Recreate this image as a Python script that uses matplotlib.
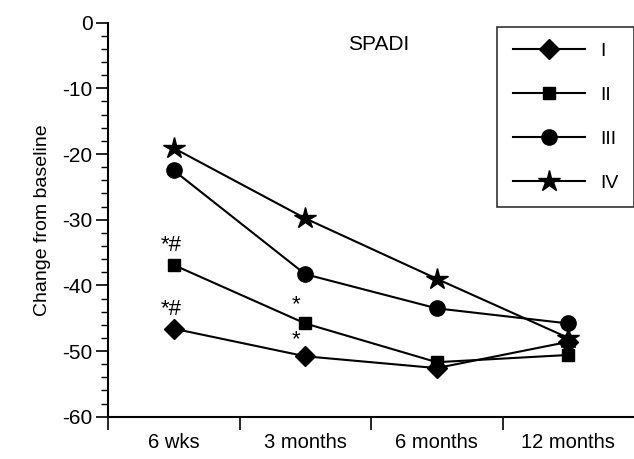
import matplotlib.pyplot as plt
from matplotlib.ticker import MultipleLocator

plt.rcParams['font.family'] = ['Liberation Sans', 'DejaVu Sans']
plt.rcParams['axes.unicode_minus'] = False

# data
timepoints = ['6 wks', '3 months', '6 months', '12 months']
group_I = [-46.6, -50.8, -52.6, -48.6]
group_II = [-36.9, -45.8, -51.7, -50.6]
group_III = [-22.5, -38.3, -43.5, -45.8]
group_IV = [-19.1, -29.8, -39.0, -48.0]
labels = ['I', 'II', 'III', 'IV']
markers = ['D', 's', 'o', '*']
msizes = [10, 9, 11, 16]

fig = plt.figure(figsize=(6.34, 4.59), dpi=100)
ax = fig.add_axes([108 / 634, 1 - 416.7 / 459, 526 / 634, 394 / 459])

x = list(range(len(timepoints)))
for vals, lab, m, ms in zip([group_I, group_II, group_III, group_IV], labels, markers, msizes):
    ax.plot(x, vals, color='black', lw=1.5, marker=m, markersize=ms, label=lab)

# significance marks
ax.text(-0.02, group_II[0] + 1.4, '*#', ha='center', va='bottom', fontsize=16)
ax.text(-0.02, group_I[0] + 1.4, '*#', ha='center', va='bottom', fontsize=16)
ax.text(0.93, group_II[1] + 1.2, '*', ha='center', va='bottom', fontsize=16)
ax.text(0.93, group_II[1] - 0.9, '*', ha='center', va='top', fontsize=16)

ax.set_xlim(-0.5, 3.5)
ax.set_ylim(-60, 0)
ax.set_xticks([-0.5, 0.5, 1.5, 2.5])
ax.set_xticklabels([])
ax.set_xticks(x, minor=True)
ax.set_xticklabels(timepoints, minor=True, fontsize=14.5)
ax.tick_params(axis='x', which='minor', length=0, pad=12)
ax.tick_params(axis='x', which='major', length=9, width=1.2, direction='out')
ax.yaxis.set_major_locator(MultipleLocator(10))
ax.yaxis.set_minor_locator(MultipleLocator(2))
ax.tick_params(axis='y', which='major', length=9, width=1.2, labelsize=15, pad=2)
ax.tick_params(axis='y', which='minor', length=5, width=1)

ax.spines['top'].set_visible(False)
ax.spines['right'].set_visible(False)
ax.spines['left'].set_linewidth(1.5)
ax.spines['bottom'].set_linewidth(1.5)

ax.set_ylabel('Change from baseline', fontsize=14, labelpad=8)
ax.text(0.515, 0.97, 'SPADI', transform=ax.transAxes, ha='center', va='top', fontsize=15)

leg = ax.legend(loc='upper right', bbox_to_anchor=(634 / 634, 1 - 27 / 459),
                bbox_transform=fig.transFigure, frameon=True, fancybox=False,
                edgecolor='black', fontsize=14, handlelength=3.7, labelspacing=1.35,
                borderpad=0.8, handletextpad=0.8, borderaxespad=0)
leg.get_frame().set_linewidth(1.2)

fig.savefig('out.png', dpi=100)
